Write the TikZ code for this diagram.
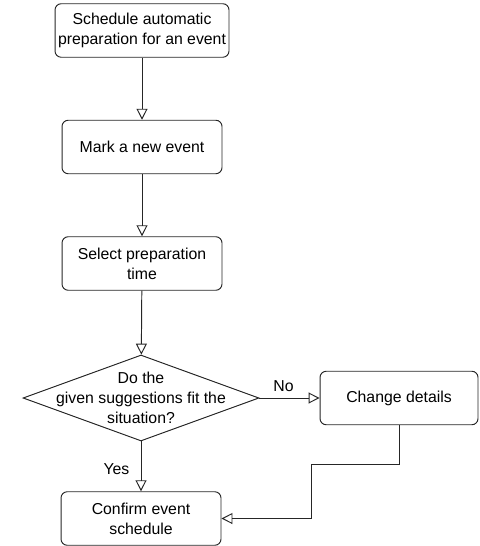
\documentclass[tikz,border=0pt]{standalone}
\usepackage{fontspec}
\setmainfont{Liberation Sans}
\usepackage{tikz}
\usetikzlibrary{shapes.geometric,arrows.meta}

\begin{document}
\begin{tikzpicture}[x=0.02cm,y=-0.02cm,
    step_node/.style={rectangle,rounded corners=3.5pt,draw=black!85,line width=0.55pt,align=center,minimum width=3.2cm,minimum height=1.07cm,inner sep=1pt,font=\fontsize{9}{11.5}\selectfont},
    decision_node/.style={diamond,draw=black!85,line width=0.55pt,minimum width=4.72cm,minimum height=1.72cm,inner sep=0pt},
    flow/.style={draw=black!85,line width=0.55pt,-{Triangle[open,width=0.22cm,length=0.22cm]}},
    flow_label/.style={font=\fontsize{9}{11}\selectfont}]

    \useasboundingbox (0,0) rectangle (479,546);

    \node[step_node,minimum width=3.48cm] (0) at (142, 30.5) {Schedule automatic\\preparation for an event};
    \node[step_node] (1) at (142, 147) {Mark a new event};
    \node[step_node] (2) at (142, 263.5) {Select preparation\\time};
    \node[decision_node,label={[align=center,font=\fontsize{9}{11.5}\selectfont]center:Do the\\given suggestions fit the\\situation?}] (3) at (141, 398) {};
    \node[step_node,minimum width=3.16cm] (4) at (399, 398) {Change details};
    \node[step_node] (5) at (141, 518.5) {Confirm event\\schedule};
    \coordinate (4_bend) at (311, 464);

    \path[draw, flow]
    (0) edge node {} (1)
    (1) edge node {} (2)
    (2) edge node {} (3)
    (3) edge node[flow_label,left,pos=0.55,xshift=-3pt] {Yes} (5)
    (3) edge node[flow_label,above,pos=0.4] {No} (4)
    ;
    \draw[flow] (4.south) |- (4_bend) |- (5.east);
    \end{tikzpicture}
\end{document}
